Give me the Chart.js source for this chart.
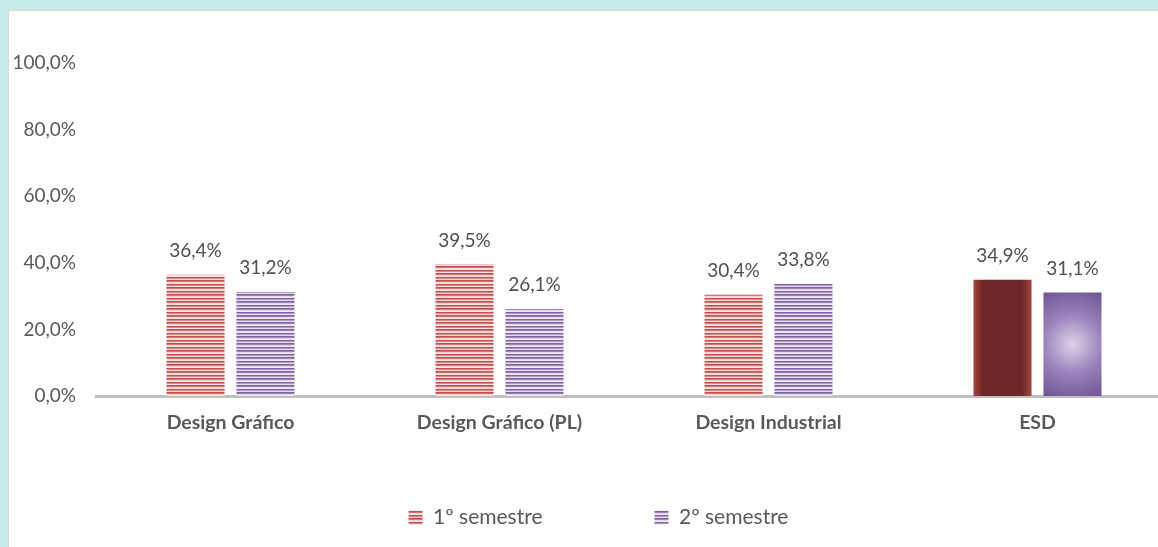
<!DOCTYPE html>
<html>
<head>
<meta charset="utf-8">
<script src="https://cdn.jsdelivr.net/npm/chart.js@4.4.1/dist/chart.umd.min.js"></script>
<style>
  html, body { margin: 0; padding: 0; }
  body { width: 1158px; height: 547px; overflow: hidden; position: relative; background: #C6EAE6; }
  #frame { position: absolute; left: 8px; top: 10px; width: 1200px; height: 600px; background: #fff;
           border-left: 1px solid #D9D9D9; border-top: 1px solid #D9D9D9; }
  #wrap { position: absolute; left: 0; top: 0; width: 1200px; height: 547px; }
</style>
</head>
<body>
<div id="frame"></div>
<div id="wrap"><canvas id="c"></canvas></div>
<script>
const categories = ['Design Gráfico', 'Design Gráfico (PL)', 'Design Industrial', 'ESD'];
const seriesNames = ['1º semestre', '2º semestre'];
const sem1 = [36.4, 39.5, 30.4, 34.9];
const sem2 = [31.2, 26.1, 33.8, 31.1];
const yTicks = [0, 20, 40, 60, 80, 100];

const FONT = 'Lato, "Open Sans", sans-serif';
const TEXT = '#595959';

function makeStripes(rows) {
  const c = document.createElement('canvas');
  c.width = 8; c.height = rows.length;
  const g = c.getContext('2d');
  rows.forEach((col, i) => { g.fillStyle = col; g.fillRect(0, i, 8, 1); });
  return g.createPattern(c, 'repeat');
}
const redStripes = makeStripes(['#C0504D', '#CF7573', '#F4D6D5', '#F8E4E3', '#C24F4C', '#D98B89', '#F6DCDB']);
const purpleStripes = makeStripes(['#8064A2', '#9A84B5', '#E2DAEC', '#EEE9F4', '#7F62A1', '#AE9CC5', '#E6DFEF']);

const catPct = 0.52, barPct = 0.83;

function barGeom(chart, dsIndex, dataIndex, value) {
  const xs = chart.scales.x, ys = chart.scales.y;
  if (!xs || !ys || !chart.chartArea) return null;
  const cw = (xs.right - xs.left) / categories.length;
  const slot = cw * catPct / 2;
  const cx = xs.getPixelForValue(dataIndex) + (dsIndex - 0.5) * slot;
  const w = slot * barPct;
  const top = ys.getPixelForValue(value), base = ys.getPixelForValue(0);
  return { left: cx - w / 2, right: cx + w / 2, cx, top, base };
}

function redFill(c) {
  if (c.type !== 'data' || c.dataIndex < 3) return redStripes;
  const g = barGeom(c.chart, 0, c.dataIndex, sem1[c.dataIndex]);
  if (!g) return '#7A2A28';
  const gr = c.chart.ctx.createLinearGradient(g.left, 0, g.right, 0);
  gr.addColorStop(0, '#A8463F');
  gr.addColorStop(0.16, '#6E2626');
  gr.addColorStop(0.84, '#6E2626');
  gr.addColorStop(1, '#A8463F');
  return gr;
}
function purpleFill(c) {
  if (c.type !== 'data' || c.dataIndex < 3) return purpleStripes;
  const g = barGeom(c.chart, 1, c.dataIndex, sem2[c.dataIndex]);
  if (!g) return '#7A62A0';
  const cy = (g.top + g.base) / 2;
  const r = (g.base - g.top) * 0.62;
  const gr = c.chart.ctx.createRadialGradient(g.cx, cy, 0, g.cx, cy, r);
  gr.addColorStop(0, '#DCD2E8');
  gr.addColorStop(0.45, '#9A84BC');
  gr.addColorStop(1, '#654D8C');
  return gr;
}

const LEGEND_PAD = 112;
const LEGEND_ROW_Y = 507;

const helpers = {
  id: 'helpers',
  afterLayout(chart) {
    if (chart.legend) chart.legend.top = LEGEND_ROW_Y - LEGEND_PAD;
  },
  afterDatasetsDraw(chart) {
    const ctx = chart.ctx;
    ctx.save();
    ctx.font = '19px ' + FONT;
    ctx.fillStyle = '#505050';
    ctx.textAlign = 'center';
    ctx.textBaseline = 'middle';
    chart.data.datasets.forEach((ds, di) => {
      chart.getDatasetMeta(di).data.forEach((el, i) => {
        const v = ds.data[i];
        ctx.fillText(v.toFixed(1).replace('.', ',') + '%', el.x, el.y - 24);
      });
    });
    ctx.restore();
  }
};

new Chart(document.getElementById('c'), {
  type: 'bar',
  data: {
    labels: categories,
    datasets: [
      { label: seriesNames[0], data: sem1, backgroundColor: redFill, borderWidth: 0,
        categoryPercentage: catPct, barPercentage: barPct, yAxisID: 'y' },
      { label: seriesNames[1], data: sem2, backgroundColor: purpleFill, borderWidth: 0,
        categoryPercentage: catPct, barPercentage: barPct, yAxisID: 'y' }
    ]
  },
  options: {
    responsive: true,
    maintainAspectRatio: false,
    animation: false,
    devicePixelRatio: 1,
    layout: { padding: { left: 0, right: 3, top: 63, bottom: 20 } },
    plugins: {
      tooltip: { enabled: false },
      legend: {
        position: 'bottom',
        maxHeight: 30,
        labels: {
          font: { family: FONT, size: 21 },
          color: TEXT,
          boxWidth: 14,
          boxHeight: 14,
          padding: LEGEND_PAD,
          generateLabels(chart) {
            return chart.data.datasets.map((ds, i) => ({
              text: ds.label,
              fillStyle: i === 0 ? redStripes : purpleStripes,
              strokeStyle: 'rgba(0,0,0,0)',
              lineWidth: 0,
              fontColor: TEXT,
              hidden: false,
              datasetIndex: i
            }));
          }
        }
      }
    },
    scales: {
      x: {
        grid: { display: false, drawTicks: false },
        border: { display: true, color: '#BFBFBF', width: 3 },
        ticks: { font: { family: FONT, size: 19.5, weight: 'bold' }, color: TEXT, padding: 15, maxRotation: 0 },
        afterFit(s) { s.height = 101; }
      },
      y: {
        min: 0, max: 100,
        afterBuildTicks(s) { s.ticks = yTicks.map(v => ({ value: v })); },
        grid: { display: false, drawTicks: false },
        border: { display: false },
        ticks: {
          font: { family: FONT, size: 19 }, color: TEXT, padding: 20,
          callback: v => v.toFixed(1).replace('.', ',') + '%'
        },
        afterFit(s) { s.width = 96; }
      },
      yRight: {
        position: 'right',
        display: true,
        grid: { display: false, drawTicks: false },
        border: { display: false },
        ticks: { display: false },
        afterFit(s) { s.width = 25; }
      }
    }
  },
  plugins: [helpers]
});
</script>
</body>
</html>
